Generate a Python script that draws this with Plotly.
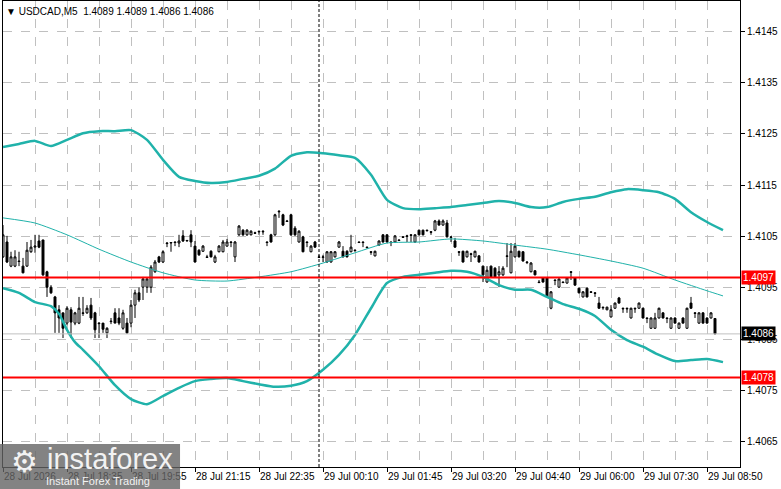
import plotly.graph_objects as go

# USDCAD M5, one bar every 5 minutes, bar index on the x axis
opens = [
	1.41010, 1.41039, 1.40992, 1.40992, 1.41002, 1.40992, 1.40992, 1.41020, 1.41029, 1.41041,
	1.41043, 1.40981, 1.40951, 1.40932, 1.40907, 1.40901, 1.40881, 1.40907, 1.40881, 1.40881,
	1.40901, 1.40901, 1.40916, 1.40901, 1.40881, 1.40881, 1.40862, 1.40885, 1.40901, 1.40891,
	1.40871, 1.40881, 1.40881, 1.40916, 1.40940, 1.40951, 1.40951, 1.40951, 1.40981, 1.41010,
	1.41000, 1.41037, 1.41037, 1.41039, 1.41037, 1.41051, 1.41041, 1.41053, 1.41031, 1.41023,
	1.41021, 1.41010, 1.41021, 1.41000, 1.41020, 1.41020, 1.41031, 1.41039, 1.41010, 1.41053,
	1.41062, 1.41053, 1.41053, 1.41057, 1.41060, 1.41060, 1.41039, 1.41053, 1.41053, 1.41099,
	1.41092, 1.41080, 1.41092, 1.41066, 1.41039, 1.41049, 1.41039, 1.41020, 1.41039, 1.41010,
	1.41009, 1.41000, 1.41000, 1.41010, 1.41029, 1.41021, 1.41021, 1.41020, 1.41023, 1.41039,
	1.41039, 1.41029, 1.41020, 1.41012, 1.41033, 1.41053, 1.41053, 1.41039, 1.41039, 1.41043,
	1.41049, 1.41051, 1.41053, 1.41039, 1.41062, 1.41062, 1.41062, 1.41059, 1.41062, 1.41080,
	1.41072, 1.41076, 1.41049, 1.41041, 1.41020, 1.41021, 1.41010, 1.41016, 1.41010, 1.41012,
	1.40992, 1.40961, 1.40992, 1.40988, 1.40975, 1.40975, 1.41012, 1.40979, 1.41010, 1.41021,
	1.41020, 1.41000, 1.40981, 1.40983, 1.40961, 1.40969, 1.40969, 1.40910, 1.40965, 1.40951,
	1.40961, 1.40959, 1.40981, 1.40969, 1.40949, 1.40932, 1.40949, 1.40942, 1.40940, 1.40920,
	1.40912, 1.40907, 1.40893, 1.40910, 1.40930, 1.40910, 1.40910, 1.40891, 1.40910, 1.40910,
	1.40910, 1.40891, 1.40871, 1.40871, 1.40891, 1.40901, 1.40891, 1.40871, 1.40891, 1.40871,
	1.40891, 1.40871, 1.40920, 1.40901, 1.40881, 1.40901, 1.40891, 1.40891, 1.40890,
]
highs = [
	1.41072, 1.41051, 1.41020, 1.41023, 1.41020, 1.41008, 1.41039, 1.41043, 1.41053, 1.41053,
	1.41043, 1.40983, 1.40955, 1.40934, 1.40916, 1.40901, 1.40914, 1.40912, 1.40903, 1.40932,
	1.40932, 1.40916, 1.40930, 1.40903, 1.40883, 1.40881, 1.40873, 1.40891, 1.40910, 1.40910,
	1.40907, 1.40891, 1.40926, 1.40946, 1.40951, 1.40971, 1.40969, 1.40994, 1.41004, 1.41012,
	1.41023, 1.41039, 1.41039, 1.41040, 1.41053, 1.41062, 1.41043, 1.41062, 1.41041, 1.41025,
	1.41033, 1.41014, 1.41023, 1.41014, 1.41033, 1.41043, 1.41045, 1.41041, 1.41041, 1.41072,
	1.41064, 1.41064, 1.41062, 1.41059, 1.41061, 1.41062, 1.41040, 1.41055, 1.41094, 1.41101,
	1.41094, 1.41082, 1.41094, 1.41070, 1.41062, 1.41051, 1.41040, 1.41033, 1.41041, 1.41014,
	1.41014, 1.41021, 1.41021, 1.41021, 1.41041, 1.41031, 1.41023, 1.41053, 1.41025, 1.41040,
	1.41040, 1.41030, 1.41021, 1.41022, 1.41042, 1.41054, 1.41054, 1.41040, 1.41052, 1.41044,
	1.41050, 1.41053, 1.41054, 1.41054, 1.41063, 1.41063, 1.41063, 1.41060, 1.41082, 1.41083,
	1.41083, 1.41082, 1.41050, 1.41047, 1.41021, 1.41022, 1.41022, 1.41018, 1.41022, 1.41013,
	1.40993, 1.40992, 1.40993, 1.40990, 1.40992, 1.40992, 1.41037, 1.41037, 1.41037, 1.41022,
	1.41021, 1.41002, 1.41000, 1.40984, 1.40965, 1.40970, 1.40970, 1.40943, 1.40966, 1.40968,
	1.40962, 1.40970, 1.40982, 1.40970, 1.40950, 1.40943, 1.40950, 1.40943, 1.40941, 1.40932,
	1.40913, 1.40913, 1.40916, 1.40921, 1.40932, 1.40911, 1.40911, 1.40911, 1.40911, 1.40921,
	1.40911, 1.40892, 1.40892, 1.40901, 1.40911, 1.40902, 1.40892, 1.40892, 1.40892, 1.40882,
	1.40892, 1.40911, 1.40932, 1.40902, 1.40902, 1.40902, 1.40892, 1.40902, 1.40890,
]
lows = [
	1.41008, 1.40998, 1.40990, 1.40990, 1.40992, 1.40978, 1.40991, 1.41018, 1.41018, 1.41027,
	1.40973, 1.40932, 1.40938, 1.40862, 1.40862, 1.40852, 1.40877, 1.40852, 1.40877, 1.40879,
	1.40895, 1.40899, 1.40887, 1.40852, 1.40852, 1.40862, 1.40852, 1.40879, 1.40881, 1.40877,
	1.40868, 1.40860, 1.40873, 1.40891, 1.40922, 1.40926, 1.40940, 1.40940, 1.40979, 1.40998,
	1.40998, 1.41029, 1.41020, 1.41031, 1.41029, 1.41039, 1.41040, 1.41029, 1.40999, 1.41012,
	1.41020, 1.41008, 1.41009, 1.40998, 1.41019, 1.41019, 1.41030, 1.41029, 1.41000, 1.41051,
	1.41051, 1.41051, 1.41052, 1.41055, 1.41053, 1.41053, 1.41031, 1.41038, 1.41051, 1.41086,
	1.41070, 1.41078, 1.41051, 1.41051, 1.41038, 1.41019, 1.41029, 1.41019, 1.41028, 1.41008,
	1.41000, 1.40999, 1.40999, 1.41009, 1.41028, 1.41009, 1.41009, 1.41019, 1.41021, 1.41037,
	1.41029, 1.41027, 1.41014, 1.41011, 1.41032, 1.41038, 1.41038, 1.41031, 1.41038, 1.41041,
	1.41047, 1.41039, 1.41039, 1.41038, 1.41052, 1.41052, 1.41060, 1.41053, 1.41060, 1.41071,
	1.41071, 1.41048, 1.41039, 1.41028, 1.41012, 1.40999, 1.41009, 1.41000, 1.41009, 1.40999,
	1.40961, 1.40960, 1.40969, 1.40969, 1.40951, 1.40973, 1.40990, 1.40978, 1.41009, 1.41009,
	1.41001, 1.40996, 1.40980, 1.40974, 1.40959, 1.40960, 1.40931, 1.40908, 1.40955, 1.40950,
	1.40959, 1.40958, 1.40965, 1.40954, 1.40939, 1.40931, 1.40931, 1.40940, 1.40932, 1.40909,
	1.40907, 1.40906, 1.40892, 1.40909, 1.40919, 1.40901, 1.40901, 1.40890, 1.40901, 1.40909,
	1.40890, 1.40881, 1.40870, 1.40870, 1.40890, 1.40890, 1.40881, 1.40870, 1.40880, 1.40870,
	1.40880, 1.40870, 1.40909, 1.40891, 1.40880, 1.40880, 1.40880, 1.40890, 1.40860,
]
closes = [
	1.41053, 1.41000, 1.41010, 1.41010, 1.41001, 1.40979, 1.41023, 1.41029, 1.41031, 1.41029,
	1.40975, 1.40951, 1.40940, 1.40901, 1.40891, 1.40871, 1.40910, 1.40883, 1.40901, 1.40910,
	1.40900, 1.40910, 1.40891, 1.40868, 1.40880, 1.40869, 1.40871, 1.40884, 1.40881, 1.40881,
	1.40901, 1.40862, 1.40916, 1.40940, 1.40926, 1.40967, 1.40967, 1.40990, 1.41000, 1.41000,
	1.41020, 1.41036, 1.41038, 1.41038, 1.41041, 1.41041, 1.41042, 1.41039, 1.41000, 1.41014,
	1.41031, 1.41009, 1.41010, 1.41010, 1.41031, 1.41039, 1.41039, 1.41038, 1.41039, 1.41070,
	1.41053, 1.41062, 1.41060, 1.41056, 1.41059, 1.41059, 1.41038, 1.41039, 1.41092, 1.41098,
	1.41072, 1.41079, 1.41053, 1.41053, 1.41060, 1.41020, 1.41038, 1.41031, 1.41029, 1.41009,
	1.41010, 1.41020, 1.41020, 1.41020, 1.41039, 1.41010, 1.41010, 1.41029, 1.41022, 1.41038,
	1.41038, 1.41028, 1.41019, 1.41021, 1.41041, 1.41039, 1.41039, 1.41038, 1.41051, 1.41042,
	1.41048, 1.41050, 1.41052, 1.41053, 1.41053, 1.41053, 1.41061, 1.41058, 1.41080, 1.41072,
	1.41080, 1.41049, 1.41048, 1.41029, 1.41019, 1.41000, 1.41021, 1.41015, 1.41021, 1.41000,
	1.40975, 1.40984, 1.40971, 1.40971, 1.40981, 1.40988, 1.41011, 1.41021, 1.41031, 1.41010,
	1.41002, 1.40999, 1.40998, 1.40975, 1.40960, 1.40961, 1.40932, 1.40942, 1.40964, 1.40967,
	1.40960, 1.40969, 1.40980, 1.40955, 1.40940, 1.40942, 1.40932, 1.40941, 1.40939, 1.40910,
	1.40911, 1.40912, 1.40907, 1.40920, 1.40920, 1.40909, 1.40909, 1.40910, 1.40909, 1.40920,
	1.40891, 1.40890, 1.40891, 1.40891, 1.40910, 1.40891, 1.40890, 1.40891, 1.40881, 1.40881,
	1.40881, 1.40910, 1.40910, 1.40900, 1.40901, 1.40881, 1.40881, 1.40901, 1.40860,
]
bar_idx = list(range(len(closes)))

# Bollinger bands
upper_idx = [0, 4, 8, 12, 16, 20, 24, 28, 32, 36, 40, 44, 48, 52, 56, 60, 64, 68, 72, 76, 80, 84, 88,
	92, 96, 100, 104, 108, 112, 116, 120, 124, 128, 132, 136, 140, 144, 148, 152, 156, 160, 164, 168,
	172, 176, 180]
upper_band = [1.41224, 1.41230, 1.41236, 1.41226, 1.41238, 1.41251, 1.41255, 1.41255, 1.41257, 1.41238,
	1.41199, 1.41166, 1.41158, 1.41154, 1.41156, 1.41162, 1.41168, 1.41182, 1.41207, 1.41214, 1.41212,
	1.41208, 1.41203, 1.41170, 1.41121, 1.41105, 1.41103, 1.41105, 1.41107, 1.41111, 1.41115, 1.41119,
	1.41115, 1.41107, 1.41107, 1.41117, 1.41123, 1.41127, 1.41136, 1.41142, 1.41140, 1.41136, 1.41123,
	1.41097, 1.41078, 1.41062]
middle_idx = [0, 8, 16, 24, 32, 40, 48, 56, 64, 72, 80, 88, 96, 104, 112, 120, 128, 136, 144, 152,
	160, 168, 176, 180]
middle_band = [1.41086, 1.41076, 1.41053, 1.41025, 1.41000, 1.40979, 1.40965, 1.40963, 1.40971,
	1.40981, 1.40998, 1.41018, 1.41037, 1.41039, 1.41045, 1.41041, 1.41033, 1.41025, 1.41014, 1.41002,
	1.40988, 1.40965, 1.40944, 1.40934]
lower_idx = [0, 4, 8, 12, 14, 16, 18, 20, 24, 28, 32, 36, 40, 44, 48, 52, 56, 60, 64, 68, 72, 76, 80,
	84, 88, 92, 96, 100, 104, 108, 112, 116, 120, 124, 128, 132, 136, 140, 144, 148, 152, 156, 160, 164,
	168, 172, 176, 180]
lower_band = [1.40949, 1.40940, 1.40922, 1.40914, 1.40899, 1.40868, 1.40844, 1.40829, 1.40797, 1.40760,
	1.40733, 1.40723, 1.40739, 1.40755, 1.40768, 1.40772, 1.40774, 1.40768, 1.40762, 1.40757, 1.40759,
	1.40768, 1.40790, 1.40819, 1.40858, 1.40910, 1.40959, 1.40971, 1.40975, 1.40979, 1.40983, 1.40981,
	1.40971, 1.40955, 1.40946, 1.40946, 1.40932, 1.40918, 1.40909, 1.40895, 1.40868, 1.40848, 1.40835,
	1.40819, 1.40807, 1.40809, 1.40811, 1.40805]

# x axis labels (every 16 bars)
tick_idx = [0, 16, 32, 48, 64, 80, 96, 112, 128, 144, 160, 176]
tick_text = ["28 Jul 2026", "28 Jul 18:35", "28 Jul 19:55", "28 Jul 21:15", "28 Jul 22:35",
	"29 Jul 00:10", "29 Jul 01:45", "29 Jul 03:20", "29 Jul 04:40", "29 Jul 06:00",
	"29 Jul 07:30", "29 Jul 08:50"]
price_ticks = [1.4065, 1.4075, 1.4085, 1.4095, 1.4105, 1.4115, 1.4125, 1.4135, 1.4145]

# horizontal levels
levels = [1.4097, 1.40775]
level_text = ["1.4097", "1.4078"]
day_break = 79
symbol = "USDCAD,M5"

TEAL = "#20b2aa"
FONT = "Liberation Sans"


def main():
	fig = go.Figure()

	for idx, vals, w in [(upper_idx, upper_band, 2.5), (middle_idx, middle_band, 1), (lower_idx, lower_band, 2.5)]:
		fig.add_trace(go.Scatter(
			x = idx,
			y = vals,
			mode = "lines",
			line = dict(color = TEAL, width = w, shape = "spline", smoothing = 0.6),
			hoverinfo = "skip"
		))

	fig.add_trace(go.Candlestick(
		x = bar_idx,
		open = opens,
		high = highs,
		low = lows,
		close = closes,
		increasing = dict(line = dict(color = "black", width = 1), fillcolor = "white"),
		decreasing = dict(line = dict(color = "black", width = 1), fillcolor = "black"),
		whiskerwidth = 0
	))

	last = closes[-1]

	# current price line + support/resistance levels
	fig.add_hline(y = last, line = dict(color = "#c0c0c0", width = 1))
	for lv in levels:
		fig.add_hline(y = lv, line = dict(color = "red", width = 2))
	fig.add_vline(x = day_break, line = dict(color = "black", width = 1, dash = "3px,2px"))

	for lv, txt in zip(levels, level_text):
		fig.add_annotation(x = 1, xref = "paper", y = lv, yref = "y", xanchor = "left", xshift = 1,
			text = txt, showarrow = False, bgcolor = "red", borderpad = 1,
			font = dict(family = FONT, size = 10, color = "white"))
	fig.add_annotation(x = 1, xref = "paper", y = last, yref = "y", xanchor = "left", xshift = 1,
		text = "%.4f" % last, showarrow = False, bgcolor = "black", borderpad = 1,
		font = dict(family = FONT, size = 10, color = "white"))

	# header
	head = "\u25bc\u00a0" + symbol + "\u00a0\u00a0" + " ".join("%.4f" % v for v in [opens[-1], highs[-1], lows[-1], closes[-1]])
	fig.add_annotation(x = 0.001, xref = "paper", y = 0.978, yref = "paper", xanchor = "left",
		yanchor = "middle", text = head, showarrow = False,
		font = dict(family = FONT, size = 10, color = "black"))

	# watermark box in the bottom-left corner
	fig.add_shape(type = "rect", xref = "paper", yref = "paper", x0 = -0.005, x1 = 0.2402,
		y0 = -0.048, y1 = 0.0494, fillcolor = "rgba(100,100,100,0.8)", line = dict(width = 0),
		layer = "above")
	fig.add_annotation(x = 0.0285, xref = "paper", y = 0.011, yref = "paper", text = "\u2699",
		xanchor = "center", yanchor = "middle", showarrow = False,
		font = dict(family = "DejaVu Sans", size = 30, color = "#f2f2f2"))
	fig.add_annotation(x = 0.1452, xref = "paper", y = 0.017, yref = "paper", text = "instaforex",
		xanchor = "center", yanchor = "middle", showarrow = False,
		font = dict(family = FONT, size = 29, color = "#f2f2f2"))
	fig.add_annotation(x = 0.129, xref = "paper", y = -0.030, yref = "paper", text = "Instant Forex Trading",
		xanchor = "center", yanchor = "middle", showarrow = False,
		font = dict(family = FONT, size = 11, color = "#f2f2f2"))

	fig.update_layout(
		width = 781,
		height = 489,
		margin = dict(l = 3, r = 41, t = 1, b = 22),
		paper_bgcolor = "white",
		plot_bgcolor = "white",
		showlegend = False,
		font = dict(family = FONT, size = 10, color = "black"),
		xaxis = go.layout.XAxis(
			range = [0, 184.25],
			rangeslider = dict(visible = False),
			tickmode = "array",
			tickvals = tick_idx,
			ticktext = tick_text,
			ticks = "outside",
			ticklen = 4,
			tickcolor = "black",
			ticklabelposition = "outside right",
			showgrid = True,
			gridcolor = "#c0c0c0",
			griddash = "dash",
			minor = dict(tick0 = 0, dtick = 8, showgrid = True, gridcolor = "#c0c0c0", griddash = "dash"),
			showline = True,
			linecolor = "black",
			mirror = True,
			zeroline = False,
			fixedrange = True
		),
		yaxis = go.layout.YAxis(
			side = "right",
			range = [1.406007, 1.415085],
			tickmode = "array",
			tickvals = price_ticks,
			ticktext = ["%.4f" % t for t in price_ticks],
			ticks = "outside",
			ticklen = 4,
			tickcolor = "black",
			showgrid = True,
			gridcolor = "#c0c0c0",
			griddash = "dash",
			showline = True,
			linecolor = "black",
			mirror = True,
			zeroline = False
		)
	)

	# the page has a default body margin, drop it so the figure sits at 0,0
	fig.write_html("out.html", config = {"displayModeBar": False},
		post_script = "document.body.style.margin = '0px';")


if __name__ == "__main__":
	main()
